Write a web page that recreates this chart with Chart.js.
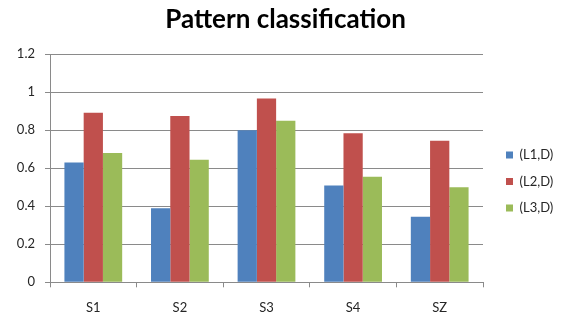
<!DOCTYPE html>
<html>
<head>
<meta charset="utf-8">
<script src="https://cdn.jsdelivr.net/npm/chart.js@4.4.1/dist/chart.umd.min.js"></script>
<style>
  html, body { margin: 0; padding: 0; background: #ffffff; }
  #wrap { width: 571px; height: 320px; position: relative; }
</style>
</head>
<body>
<div id="wrap"><canvas id="c" width="571" height="320"></canvas></div>
<script>
// Categories and series
const categories = ['S1', 'S2', 'S3', 'S4', 'SZ'];
const seriesNames = ['(L1,D)', '(L2,D)', '(L3,D)'];
const l1Values = [0.63, 0.39, 0.80, 0.51, 0.345];
const l2Values = [0.893, 0.875, 0.968, 0.785, 0.745];
const l3Values = [0.68, 0.645, 0.85, 0.555, 0.50];
const yTickLabels = ['0', '0.2', '0.4', '0.6', '0.8', '1', '1.2'];

const colors = ['#4F81BD', '#C0504D', '#9BBB59'];
const FONT = 'Lato, "Open Sans", "DejaVu Sans", sans-serif';
const GRID = '#8a8a8a';
const TEXT = '#262626';

// Fixed legend width and placement on the right-hand side
const legendPlacement = {
  id: 'legendPlacement',
  afterInit(chart) {
    const lg = chart.legend;
    const fit = lg.fit;
    lg.fit = function () { fit.call(this); this.width = 88; };
  },
  afterLayout(chart) {
    const lg = chart.legend;
    lg.left += 9.5;
    lg.right = chart.width;
    lg.top = 135;
    lg.bottom = 300;
  }
};

new Chart(document.getElementById('c'), {
  type: 'bar',
  data: {
    labels: categories,
    datasets: [
      { label: seriesNames[0], data: l1Values, backgroundColor: colors[0] },
      { label: seriesNames[1], data: l2Values, backgroundColor: colors[1] },
      { label: seriesNames[2], data: l3Values, backgroundColor: colors[2] }
    ]
  },
  options: {
    responsive: false,
    animation: false,
    devicePixelRatio: 1,
    layout: { padding: 0 },
    datasets: { bar: { categoryPercentage: 0.667, barPercentage: 1.0, borderWidth: 0 } },
    plugins: {
      title: {
        display: true,
        text: 'Pattern classification',
        color: '#000000',
        font: { family: FONT, size: 26, weight: 'bold' },
        padding: { top: 4, bottom: 19.1 }
      },
      legend: {
        display: true,
        position: 'right',
        align: 'start',
        labels: {
          boxWidth: 7,
          boxHeight: 7,
          padding: 13.5,
          color: TEXT,
          font: { family: FONT, size: 13 }
        }
      },
      tooltip: { enabled: false }
    },
    scales: {
      x: {
        afterFit(scale) { scale.height = 37.7; },
        grid: { display: true, drawOnChartArea: false, drawTicks: true, tickLength: 5, color: GRID, offset: true },
        border: { display: true, color: GRID },
        ticks: { color: TEXT, padding: 13, font: { family: FONT, size: 13 } }
      },
      y: {
        min: 0,
        max: 1.2,
        afterFit(scale) { scale.width = 50; },
        grid: { color: GRID, drawTicks: true, tickLength: 5 },
        border: { display: true, color: GRID },
        ticks: {
          stepSize: 0.2,
          color: TEXT,
          padding: 10,
          font: { family: FONT, size: 13 },
          callback: (v, i) => yTickLabels[i]
        }
      }
    }
  },
  plugins: [legendPlacement]
});
</script>
</body>
</html>
